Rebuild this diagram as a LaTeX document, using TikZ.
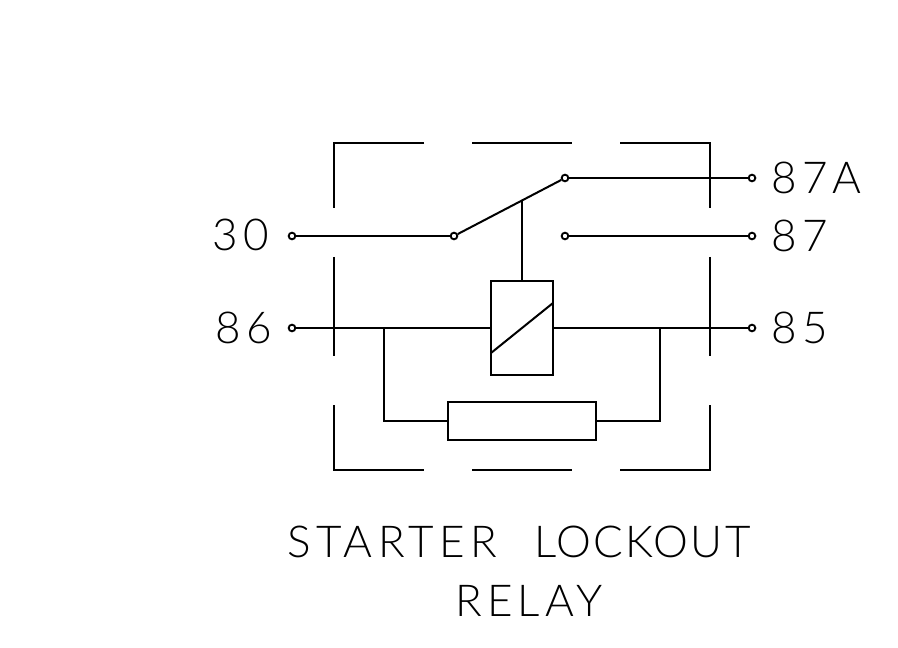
\documentclass[tikz,border=0pt]{standalone}
\usepackage{fontspec}
\setmainfont{Lato}[UprightFont=* Light,LetterSpace=12]
\usetikzlibrary{positioning}
\tikzset{
    wire/.style={line width=1.5pt},
    pin/.style={circle,draw,line width=1.4pt,fill=white,inner sep=0pt,minimum size=5pt},
    pinlabel/.style={inner sep=0pt,anchor=west,font=\fontsize{33}{33}\selectfont},
    titlelabel/.style={inner sep=0pt,font=\fontsize{33}{33}\selectfont}
}
\begin{document}
\begin{tikzpicture}[x=0.75pt,y=-0.75pt]
\useasboundingbox (0,0) rectangle (898,648);
%relay case
\draw [wire] (424,143) -- (334,143) -- (334,208);
\draw [wire] (472,143) -- (572,143);
\draw [wire] (620,143) -- (710,143) -- (710,208);
\draw [wire] (334,257) -- (334,356);
\draw [wire] (710,257) -- (710,356);
\draw [wire] (334,405) -- (334,470) -- (424,470);
\draw [wire] (472,470) -- (572,470);
\draw [wire] (620,470) -- (710,470) -- (710,405);

\node [pin] (pin30) at (292,236) {};
\node [pin] (pivot) at (454,236) {};
\node [pin] (nc) at (565,178) {};
\node [pin] (pin87a) at (752,178) {};
\node [pin] (no) at (565,236) {};
\node [pin] (pin87) at (752,236) {};
\node [pin] (pin86) at (292,328) {};
\node [pin] (pin85) at (752,328) {};

\node [draw,wire,minimum width=46.5pt,minimum height=70pt,inner sep=0pt] (coil) at (522,328) {};
\node [draw,wire,minimum width=111pt,minimum height=28pt,inner sep=0pt] (resistor) at (522,421) {};

\coordinate (lever) at (522,201);
\coordinate (left) at (384,328);
\coordinate (right) at (660,328);

\draw [wire] (pin30) -- (pivot);
\draw [wire] (pivot) -- (nc);
\draw [wire] (nc) -- (pin87a);
\draw [wire] (no) -- (pin87);
\draw [wire] (lever) -- (coil.north);
\draw [wire] (pin86) -- (coil.west);
\draw [wire] (coil.east) -- (pin85);
\draw [wire] (left) |- (resistor.west);
\draw [wire] (right) |- (resistor.east);
\draw [wire] (491,353) -- (553,303);

\node [pinlabel] (lab30) at (212,235) {30};
\node [pinlabel] (lab86) at (215,328) {86};
\node [pinlabel] (lab87a) at (771,178) {87A};
\node [pinlabel] (lab87) at (771,236) {87};
\node [pinlabel] (lab85) at (771,328) {85};
\node [titlelabel] (title) at (519,542) {STARTER\hspace{15pt} {\addfontfeature{LetterSpace=5}LOCKOUT}};
\node [titlelabel] (subtitle) at (529,601) {RELAY};
\end{tikzpicture}
\end{document}
